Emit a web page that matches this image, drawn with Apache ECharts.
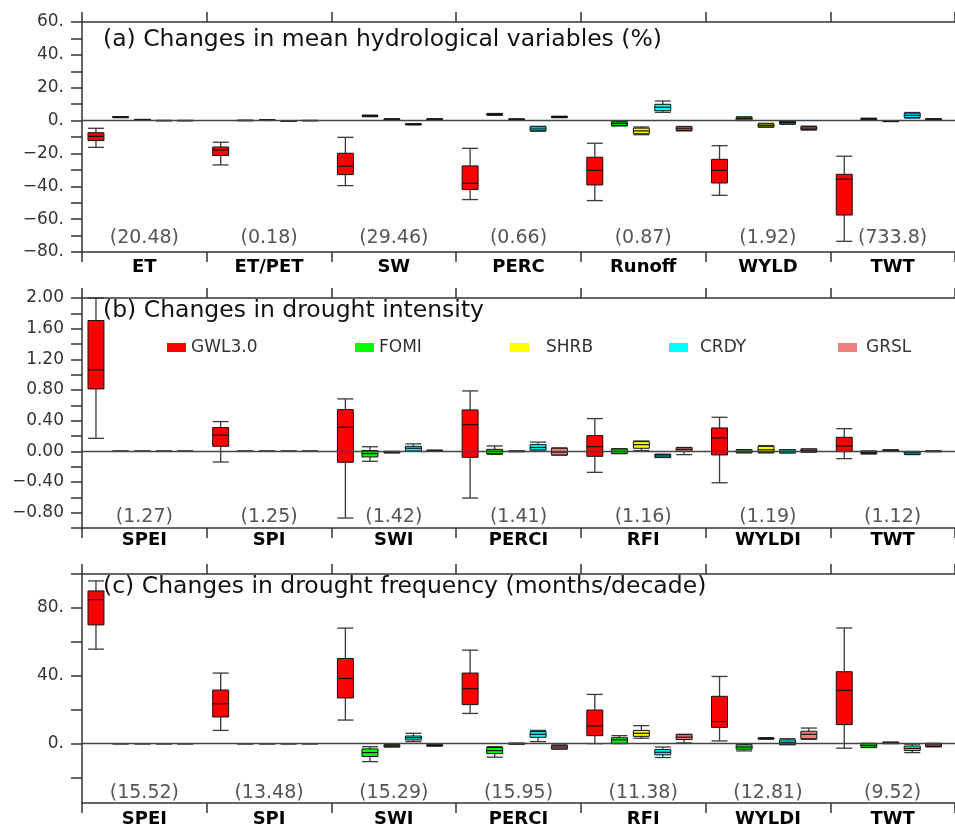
<!DOCTYPE html>
<html><head><meta charset="utf-8">
<script src="https://cdn.jsdelivr.net/npm/echarts@6/dist/echarts.min.js"></script>
<style>html,body{margin:0;padding:0;background:#fff;}#c{width:955px;height:830px;}</style>
</head><body><div id="c"></div>
<script>
// ---------- data ----------
const seriesNames = ['GWL3.0', 'FOMI', 'SHRB', 'CRDY', 'GRSL'];
const seriesColors = ['#ff0000', '#00ff00', '#ffff00', '#00ffff', '#f08080'];

const catsA = ['ET', 'ET/PET', 'SW', 'PERC', 'Runoff', 'WYLD', 'TWT'];
const notesA = ['(20.48)', '(0.18)', '(29.46)', '(0.66)', '(0.87)', '(1.92)', '(733.8)'];
const catsB = ['SPEI', 'SPI', 'SWI', 'PERCI', 'RFI', 'WYLDI', 'TWT'];
const notesB = ['(1.27)', '(1.25)', '(1.42)', '(1.41)', '(1.16)', '(1.19)', '(1.12)'];
const catsC = ['SPEI', 'SPI', 'SWI', 'PERCI', 'RFI', 'WYLDI', 'TWT'];
const notesC = ['(15.52)', '(13.48)', '(15.29)', '(15.95)', '(11.38)', '(12.81)', '(9.52)'];

const titleA = '(a) Changes in mean hydrological variables (%)';
const titleB = '(b) Changes in drought intensity';
const titleC = '(c) Changes in drought frequency (months/decade)';

// box values: [min, q1, median, q3, max] per category
const aGWL = [[-16.3,-12.2,-9.6,-7.4,-4.7],[-27.0,-21.3,-17.9,-16.1,-13.2],[-39.6,-32.9,-27.8,-19.9,-10.2],[-48.1,-42.0,-38.2,-27.6,-16.9],[-48.7,-39.2,-30.3,-22.3,-13.8],[-45.5,-38.0,-30.3,-23.6,-15.3],[-73.5,-57.5,-35.7,-32.7,-21.7]];
const aFOMI = [[1.8,1.9,2.1,2.2,2.3],[-0.1,0,0.1,0.1,0.2],[2.4,2.6,2.8,3.1,3.3],[3.2,3.4,3.8,4.1,4.3],[-3.3,-3.0,-1.8,-0.8,-0.5],[0.1,0.3,1.2,2.1,2.3],[0.6,0.7,1.0,1.3,1.4]];
const aSHRB = [[0.3,0.4,0.5,0.6,0.7],[0.1,0.2,0.3,0.4,0.5],[0.5,0.6,0.8,1.0,1.1],[0.5,0.6,0.8,0.9,1.0],[-8.6,-8.0,-6.3,-4.6,-3.9],[-4.1,-3.8,-2.9,-2.0,-1.7],[-0.6,-0.5,-0.4,-0.3,-0.2]];
const aCRDY = [[-0.1,0,0,0.1,0.1],[-0.3,-0.2,-0.2,-0.1,-0.1],[-2.6,-2.5,-2.3,-2.0,-1.9],[-6.5,-6.2,-5.1,-3.8,-3.5],[5.0,6.0,8.1,9.9,11.9],[-2.3,-2.0,-1.2,-0.5,-0.3],[1.5,1.9,3.2,4.5,4.9]];
const aGRSL = [[-0.1,0,0,0.1,0.1],[-0.1,0,0,0.1,0.1],[0.5,0.6,0.8,1.0,1.1],[1.8,1.9,2.2,2.5,2.6],[-6.3,-6.0,-5.0,-3.9,-3.6],[-5.8,-5.5,-4.6,-3.7,-3.4],[0.6,0.7,0.8,1.0,1.1]];

const bGWL = [[0.17,0.814,1.063,1.706,2.0],[-0.139,0.066,0.21,0.31,0.388],[-0.87,-0.143,0.314,0.544,0.684],[-0.609,-0.078,0.348,0.54,0.788],[-0.274,-0.065,0.061,0.205,0.427],[-0.41,-0.047,0.175,0.305,0.444],[-0.095,-0.004,0.07,0.183,0.296]];
const bFOMI = [[0,0,0,0,0],[0,0,0,0,0],[-0.13,-0.073,-0.03,0.01,0.06],[-0.04,-0.03,0.0,0.026,0.07],[-0.03,-0.026,0,0.03,0.035],[-0.02,-0.017,0,0.02,0.022],[-0.035,-0.03,-0.015,0,0.005]];
const bSHRB = [[0,0,0,0,0],[0,0,0,0,0],[-0.02,-0.018,-0.01,-0.005,0],[-0.005,-0.003,0,0.003,0.005],[0.01,0.04,0.087,0.127,0.135],[-0.02,-0.017,0.02,0.065,0.075],[0,0.003,0.01,0.017,0.02]];
const bCRDY = [[0,0,0,0,0],[0,0,0,0,0],[0.0,0.005,0.04,0.065,0.097],[0.018,0.018,0.05,0.087,0.12],[-0.08,-0.078,-0.06,-0.04,-0.038],[-0.022,-0.02,0,0.02,0.022],[-0.042,-0.04,-0.02,-0.005,-0.003]];
const bGRSL = [[0,0,0,0,0],[0,0,0,0,0],[0.005,0.007,0.01,0.013,0.015],[-0.05,-0.047,-0.01,0.04,0.045],[-0.043,0,0.026,0.048,0.05],[-0.012,-0.01,0.01,0.03,0.032],[-0.005,-0.003,0,0.003,0.005]];

const cGWL = [[55.7,70,84.9,90,95.9],[7.8,15.7,23.5,31.6,41.6],[13.9,26.9,38.4,50.2,68.1],[17.8,23,32.4,41.6,55.1],[0,4.7,10.4,19.8,29],[1.6,9.6,13,27.9,39.6],[-2.7,11.2,31.4,42.4,68.2]];
const cFOMI = [[0,0,0,0,0],[0,0,0,0,0],[-10.6,-7.6,-5.3,-3.1,-1.8],[-8,-5.9,-4.1,-2.3,-1.8],[0,0.2,2.2,3.5,4.7],[-4.3,-3.3,-2,-0.6,0],[-2.3,-2.1,-1,0,0.2]];
const cSHRB = [[0,0,0,0,0],[0,0,0,0,0],[-2,-1.8,-1.3,-0.8,-0.6],[-0.3,-0.2,0,0.2,0.3],[3.2,4.3,6.1,7.8,10.6],[2.6,2.8,3.0,3.3,3.5],[0,0.1,0.4,0.8,0.9]];
const cCRDY = [[0,0,0,0,0],[0,0,0,0,0],[1.2,2.2,3.5,4.5,6.1],[1.2,3.7,5.5,7.1,7.8],[-8.2,-6.6,-5.1,-3.5,-2],[-0.6,-0.6,0.8,2.2,2.9],[-5.3,-4.1,-2.8,-1.4,-0.3]];
const cGRSL = [[0,0,0,0,0],[0,0,0,0,0],[-1.5,-1.3,-1,-0.7,-0.5],[-3.3,-3.1,-2,-1,-0.8],[0.4,2.4,3.8,5.3,5.5],[2.5,2.9,5.5,7.3,9.2],[-1.9,-1.7,-0.8,0,0.2]];

// y-axis ticks / labels
const ticksA = [-80,-70,-60,-50,-40,-30,-20,-10,0,10,20,30,40,50,60];
const labelsA = [-80,-60,-40,-20,0,20,40,60];
const ticksB = [-1.0,-0.8,-0.6,-0.4,-0.2,0,0.2,0.4,0.6,0.8,1.0,1.2,1.4,1.6,1.8,2.0];
const labelsB = [-0.8,-0.4,0,0.4,0.8,1.2,1.6,2.0];
const ticksC = [-20,0,20,40,60,80,100];
const labelsC = [0,40,80];

// ---------- layout / style ----------
const FONT = 'DejaVu Sans';
const AX = {color: '#333', width: 1.5};
const SLOT = [0.112, 0.309, 0.485, 0.657, 0.828];
const BOXW = 0.128;

const panels = [
  {cats: catsA, notes: notesA, title: titleA, data: [aGWL,aFOMI,aSHRB,aCRDY,aGRSL], ticks: ticksA, labels: labelsA, min: -80, max: 60,
   fmt: v => (v < 0 ? '\u2212' : '') + Math.abs(v) + '.', top: 22, h: 230, catMargin: 6, noteMargin: 4, titleTop: 28},
  {cats: catsB, notes: notesB, title: titleB, data: [bGWL,bFOMI,bSHRB,bCRDY,bGRSL], ticks: ticksB, labels: labelsB, min: -1, max: 2,
   fmt: v => (v < -1e-9 ? '\u2212' : '') + Math.abs(v).toFixed(2), top: 298, h: 230, catMargin: 3, noteMargin: 1, titleTop: 299},
  {cats: catsC, notes: notesC, title: titleC, data: [cGWL,cFOMI,cSHRB,cCRDY,cGRSL], ticks: ticksC, labels: labelsC, min: -35, max: 100,
   fmt: v => v + '.', top: 574, h: 229, catMargin: 7, noteMargin: 0, titleTop: 575}
];

function makeRender(slot) {
  return function (params, api) {
    const ci = api.value(0);
    const c0 = api.coord([ci, 0]);
    const bw = api.size([1, 0])[0];
    const cx = c0[0] - bw / 2 + bw * SLOT[slot];
    const w = bw * BOXW;
    const y = [1, 2, 3, 4, 5].map(d => api.coord([ci, api.value(d)])[1]);
    const col = api.visual('color');
    const wh = {stroke: '#3a3a3a', lineWidth: 1.3};
    return {
      type: 'group',
      children: [
        {type: 'line', shape: {x1: cx, y1: y[4], x2: cx, y2: y[3]}, style: wh},
        {type: 'line', shape: {x1: cx, y1: y[1], x2: cx, y2: y[0]}, style: wh},
        {type: 'line', shape: {x1: cx - w / 2, y1: y[4], x2: cx + w / 2, y2: y[4]}, style: wh},
        {type: 'line', shape: {x1: cx - w / 2, y1: y[0], x2: cx + w / 2, y2: y[0]}, style: wh},
        {type: 'rect', shape: {x: cx - w / 2, y: y[3], width: w, height: y[1] - y[3]}, style: {fill: col, stroke: '#111', lineWidth: 1}},
        {type: 'line', shape: {x1: cx - w / 2, y1: y[2], x2: cx + w / 2, y2: y[2]}, style: {stroke: '#111', lineWidth: 1.2}}
      ]
    };
  };
}

const grid = [], xAxis = [], yAxis = [], series = [], title = [];
panels.forEach((p, pi) => {
  grid.push({left: 82, top: p.top, width: 875, height: p.h});
  xAxis.push({
    type: 'category', gridIndex: pi, position: 'bottom', data: p.cats, boundaryGap: true,
    axisLine: {onZero: false, lineStyle: AX},
    axisTick: {show: true, inside: false, length: 10, interval: 0, lineStyle: AX},
    axisLabel: {interval: 0, margin: p.catMargin, color: '#000', fontSize: 18, fontWeight: 'bold', fontFamily: FONT},
    splitLine: {show: false}
  });
  xAxis.push({
    type: 'category', gridIndex: pi, position: 'top', data: p.cats, boundaryGap: true,
    axisLine: {onZero: false, lineStyle: AX},
    axisTick: {show: true, inside: false, length: 10, interval: 0, lineStyle: AX},
    axisLabel: {show: false}, splitLine: {show: false}
  });
  xAxis.push({
    type: 'category', gridIndex: pi, position: 'bottom', data: p.notes, boundaryGap: true,
    axisLine: {show: false, onZero: false}, axisTick: {show: false},
    axisLabel: {inside: true, interval: 0, margin: p.noteMargin, color: '#555', fontSize: 19, fontFamily: FONT},
    splitLine: {show: false}
  });
  yAxis.push({
    type: 'value', gridIndex: pi, min: p.min, max: p.max,
    axisLine: {show: true, onZero: false, lineStyle: AX},
    axisTick: {show: true, inside: false, length: 11, lineStyle: AX, customValues: p.ticks},
    axisLabel: {customValues: p.labels, formatter: p.fmt, margin: 18, color: '#333', fontSize: 17, fontFamily: FONT},
    splitLine: {show: false}
  });
  title.push({text: p.title, left: 103, top: p.titleTop, padding: 0,
    textStyle: {fontSize: 23.5, fontWeight: 'normal', color: '#111', fontFamily: FONT}});
  series.push({
    type: 'line', xAxisIndex: pi * 3, yAxisIndex: pi, data: [], z: 1, silent: true,
    markLine: {silent: true, symbol: ['none', 'none'], animation: false, label: {show: false},
      lineStyle: {color: '#444', width: 1.3, type: 'solid'}, data: [{yAxis: 0}]}
  });
  p.data.forEach((arr, si) => {
    series.push({
      type: 'custom', name: seriesNames[si], xAxisIndex: pi * 3, yAxisIndex: pi, z: 3,
      itemStyle: {color: seriesColors[si]},
      encode: {x: 0, y: [1, 2, 3, 4, 5]},
      renderItem: makeRender(si),
      data: arr.map((b, ci) => [ci].concat(b))
    });
  });
});

const legendLeft = [167, 355, 510, 669, 838];
const legendPad = [0, 0, 12, 7, 4];
const legend = seriesNames.map((n, i) => ({
  data: [n], left: legendLeft[i], top: 339, padding: 0, icon: 'rect',
  itemWidth: 19, itemHeight: 9, selectedMode: false,
  itemStyle: {borderWidth: 0},
  textStyle: {fontSize: 17, color: '#333', fontFamily: FONT, padding: [0, 0, 0, legendPad[i]]}
}));

const chart = echarts.init(document.getElementById('c'), null, {renderer: 'canvas'});
chart.setOption({
  animation: false, backgroundColor: '#fff',
  title, legend, grid, xAxis, yAxis, series
});
</script></body></html>
